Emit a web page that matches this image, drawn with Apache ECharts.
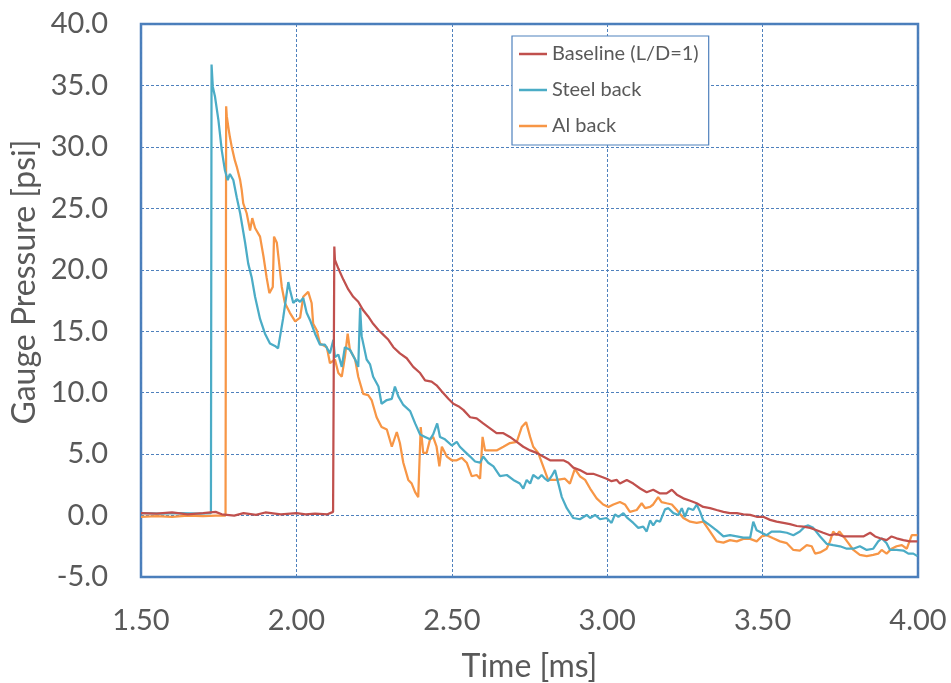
<!DOCTYPE html>
<html><head><meta charset="utf-8">
<script src="https://cdn.jsdelivr.net/npm/echarts@6/dist/echarts.min.js"></script>
<style>html,body{margin:0;padding:0;background:#fff}#c{width:951px;height:683px}</style>
</head><body><div id="c"></div>
<script>
const seriesNames = ["Baseline (L/D=1)", "Steel back", "Al back"];
const xTicks = [1.5, 2.0, 2.5, 3.0, 3.5, 4.0];
const yTicks = [-5, 0, 5, 10, 15, 20, 25, 30, 35, 40];
const xTitle = "Time [ms]";
const yTitle = "Gauge Pressure [psi]";

const baselineT = [1.500,1.550,1.600,1.650,1.700,1.740,1.760,1.800,1.830,1.870,1.900,1.950,2.000,2.030,2.060,2.100,2.118,
2.122,2.124,2.135,2.151,2.167,2.183,2.199,2.215,2.231,2.247,2.264,2.280,2.296,2.312,2.333,2.355,2.376,2.398,2.414,2.435,2.451,2.468,2.489,2.505,2.521,2.537,2.559,2.580,2.601,2.623,2.644,2.666,2.687,2.709,2.730,2.752,2.773,2.794,2.816,2.838,2.859,2.875,2.891,2.912,2.934,2.955,2.977,2.998,3.014,3.031,3.041,3.063,3.084,3.106,3.127,3.148,3.170,3.191,3.208,3.224,3.245,3.267,3.288,3.309,3.331,3.352,3.374,3.395,3.417,3.438,3.460,3.481,3.502,3.524,3.545,3.567,3.588,3.610,3.631,3.653,3.674,3.695,3.717,3.738,3.760,3.781,3.803,3.824,3.846,3.862,3.878,3.899,3.915,3.931,3.953,3.974,3.998];
const baselinePsi = [0.2,0.15,0.25,0.1,0.2,0.3,0.1,0.0,0.2,0.05,0.25,0.1,0.2,0.1,0.15,0.1,0.3,
21.9,20.8,20.1,19.2,18.4,17.8,17.4,16.7,16.2,15.6,15.1,14.7,14.3,13.7,13.2,12.8,12.1,11.6,11.0,10.9,10.6,10.1,9.5,9.1,8.9,8.6,8.0,7.9,7.5,7.1,6.7,6.7,6.4,6.0,5.6,5.3,5.1,4.8,4.5,4.5,4.5,4.3,3.9,3.7,3.4,3.4,3.2,3.0,2.8,2.9,2.6,2.9,2.6,2.2,1.9,2.1,1.8,1.8,2.1,1.7,1.4,1.2,1.0,0.7,0.6,0.45,0.3,0.2,0.2,0.1,0.05,-0.1,-0.1,-0.35,-0.5,-0.6,-0.7,-0.85,-0.9,-1.0,-1.2,-1.4,-1.6,-1.5,-1.7,-1.7,-1.7,-1.7,-1.4,-1.7,-1.85,-2.0,-1.7,-1.85,-2.0,-2.1,-2.1];

const steelT = [1.500,1.561,1.625,1.690,1.725,1.727,1.731,1.738,1.749,1.760,1.770,1.779,1.786,1.797,1.808,1.819,1.835,1.845,1.856,1.867,1.883,1.899,1.915,1.931,1.941,1.957,1.974,1.979,1.990,2.001,2.012,2.022,2.033,2.044,2.060,2.076,2.092,2.108,2.119,2.124,2.135,2.146,2.156,2.172,2.189,2.199,2.205,2.210,2.226,2.237,2.247,2.264,2.274,2.291,2.307,2.317,2.328,2.344,2.366,2.382,2.398,2.414,2.430,2.440,2.453,2.462,2.478,2.500,2.516,2.526,2.542,2.559,2.575,2.591,2.601,2.617,2.634,2.655,2.677,2.698,2.719,2.730,2.741,2.752,2.762,2.778,2.789,2.800,2.810,2.821,2.832,2.843,2.854,2.870,2.891,2.912,2.934,2.945,2.961,2.977,2.998,3.014,3.025,3.036,3.052,3.063,3.084,3.100,3.116,3.127,3.138,3.148,3.159,3.170,3.186,3.197,3.213,3.229,3.240,3.250,3.261,3.277,3.288,3.299,3.309,3.331,3.352,3.374,3.395,3.417,3.438,3.460,3.470,3.481,3.497,3.513,3.529,3.556,3.578,3.599,3.620,3.636,3.647,3.663,3.685,3.706,3.727,3.749,3.771,3.792,3.813,3.835,3.856,3.872,3.883,3.899,3.910,3.931,3.953,3.969,3.985,3.998];
const steelPsi = [0.2,0.15,0.2,0.15,0.2,36.7,34.9,34.1,32.2,29.7,28.1,27.3,27.8,27.3,25.9,24.6,22.2,20.5,19.4,17.8,16.0,14.8,14.0,13.8,13.6,16.0,19.0,18.4,17.3,17.6,17.4,17.7,16.5,15.9,14.8,13.9,13.9,13.2,14.3,12.9,13.1,12.1,13.7,13.5,12.7,12.1,16.9,14.6,12.7,12.3,11.3,10.5,9.1,9.4,9.5,10.5,9.7,9.0,8.5,7.5,6.6,6.4,6.2,6.6,7.5,6.4,6.2,5.7,6.0,5.6,5.2,4.8,4.4,4.3,4.8,4.3,4.0,3.2,3.3,2.9,2.6,2.2,2.9,2.6,3.3,3.0,3.3,3.0,2.8,3.2,3.7,2.6,1.5,0.6,-0.2,-0.3,0.05,-0.2,0.05,-0.3,-0.2,-0.6,0.1,-0.1,0.2,-0.15,-0.6,-1.0,-0.9,-1.3,-0.4,-0.8,-0.4,-0.5,0.5,0.6,0.2,0.05,0.6,-0.1,0.6,0.45,0.9,0.3,-0.4,-0.8,-1.2,-1.7,-1.6,-1.7,-1.8,-1.8,-0.5,-1.2,-1.4,-1.6,-1.3,-1.3,-1.4,-1.6,-1.3,-0.9,-0.8,-1.0,-1.7,-2.3,-2.4,-2.5,-2.7,-2.7,-2.5,-2.8,-2.7,-2.1,-1.85,-2.25,-2.8,-2.8,-2.85,-3.1,-3.1,-3.3];

const alT = [1.500,1.550,1.600,1.650,1.700,1.740,1.772,1.774,1.776,1.781,1.786,1.792,1.802,1.808,1.819,1.824,1.829,1.840,1.851,1.858,1.867,1.883,1.894,1.904,1.913,1.924,1.928,1.937,1.942,1.953,1.963,1.979,1.996,2.012,2.022,2.038,2.049,2.054,2.065,2.076,2.098,2.108,2.124,2.135,2.146,2.156,2.165,2.172,2.189,2.199,2.215,2.231,2.242,2.258,2.274,2.291,2.307,2.323,2.333,2.344,2.360,2.371,2.382,2.392,2.400,2.408,2.419,2.430,2.440,2.451,2.460,2.468,2.484,2.500,2.516,2.532,2.548,2.564,2.580,2.591,2.599,2.607,2.623,2.644,2.666,2.687,2.709,2.725,2.739,2.752,2.762,2.778,2.794,2.810,2.838,2.864,2.880,2.896,2.912,2.929,2.945,2.966,2.987,3.004,3.020,3.041,3.057,3.073,3.095,3.111,3.122,3.138,3.148,3.164,3.175,3.191,3.208,3.224,3.245,3.267,3.288,3.309,3.331,3.352,3.374,3.395,3.417,3.438,3.460,3.481,3.497,3.513,3.534,3.556,3.578,3.599,3.620,3.642,3.658,3.669,3.685,3.706,3.717,3.727,3.738,3.747,3.760,3.776,3.792,3.813,3.835,3.856,3.872,3.883,3.899,3.915,3.931,3.948,3.964,3.980,3.998];
const alPsi = [-0.1,-0.05,-0.1,0.0,-0.05,0.0,0.0,33.3,32.5,31.6,30.8,30.0,28.9,28.4,27.3,26.5,25.4,24.6,23.2,24.2,23.4,22.7,21.1,19.4,18.1,18.6,22.7,22.2,21.1,18.6,17.3,16.5,15.8,16.1,17.8,18.2,17.3,15.6,15.1,14.0,13.7,12.4,12.7,11.6,11.3,12.9,14.8,13.5,12.7,11.3,9.9,9.8,9.4,8.0,7.2,7.0,5.6,6.8,5.9,4.3,2.9,2.6,1.9,1.5,7.2,5.1,5.1,6.2,6.4,5.6,4.0,5.6,4.8,4.5,4.5,4.7,4.3,3.2,3.3,3.0,6.4,5.3,5.3,5.3,5.6,5.9,6.0,7.2,7.6,6.4,5.6,5.1,4.0,2.9,2.9,3.0,2.6,3.8,3.2,2.9,2.2,1.4,0.9,0.7,0.9,1.1,0.9,0.3,0.45,1.0,0.6,0.7,0.9,1.5,1.1,1.0,0.9,0.45,-0.2,-0.5,-0.6,-0.5,-1.3,-2.1,-2.2,-2.0,-2.1,-1.9,-1.9,-2.1,-1.7,-1.6,-1.85,-2.1,-2.25,-2.8,-2.85,-2.4,-2.5,-3.1,-3.0,-2.7,-2.1,-1.3,-1.6,-1.3,-1.7,-2.25,-2.8,-3.2,-3.3,-3.2,-3.1,-2.8,-3.1,-2.7,-2.5,-2.4,-2.7,-1.6,-1.6];

const colors = ["#C0504D", "#4BACC6", "#F79646"];
const pair = (t, p) => t.map((v, i) => [v, p[i]]);
const dataSets = [pair(baselineT, baselinePsi), pair(steelT, steelPsi), pair(alT, alPsi)];

const FONT = "Lato";
const TXT = '#595959';
const chart = echarts.init(document.getElementById('c'), null, {renderer: 'canvas'});
const gridColor = '#4F81BD';
chart.setOption({
  animation: false,
  backgroundColor: '#fff',
  textStyle: {fontFamily: FONT},
  grid: {left: 141, right: 33, top: 24, bottom: 106, containLabel: false, outerBoundsMode: 'none',
    show: true, borderColor: '#4A7EBB', borderWidth: 2.5, backgroundColor: 'transparent'},
  legend: {
    show: true, orient: 'vertical', left: 512, top: 36,
    padding: [8, 10, 9, 7], itemGap: 16, itemWidth: 28, itemHeight: 2.5,
    backgroundColor: '#fff', borderColor: '#4F81BD', borderWidth: 1.2,
    icon: 'rect',
    textStyle: {fontFamily: FONT, fontSize: 20, color: TXT},
    data: seriesNames
  },
  graphic: [{
    type: 'text', x: 25, y: 282, rotation: Math.PI / 2,
    style: {text: yTitle, font: '32px ' + FONT, fill: TXT, textAlign: 'center', textVerticalAlign: 'middle'}
  }],
  xAxis: {
    type: 'value', min: xTicks[0], max: xTicks[xTicks.length - 1], interval: 0.5,
    name: xTitle, nameLocation: 'middle', nameGap: 74,
    nameTextStyle: {fontFamily: FONT, fontSize: 32, color: TXT},
    axisLine: {show: false}, axisTick: {show: false},
    axisLabel: {fontFamily: FONT, fontSize: 29, color: TXT, margin: 29, formatter: v => v.toFixed(2)},
    splitLine: {show: true, lineStyle: {color: gridColor, type: [3, 2], width: 1}}
  },
  yAxis: {
    type: 'value', min: yTicks[0], max: yTicks[yTicks.length - 1], interval: 5,
    axisLine: {show: false}, axisTick: {show: false},
    axisLabel: {fontFamily: FONT, fontSize: 29, color: TXT, margin: 33, formatter: v => v.toFixed(1)},
    splitLine: {show: true, lineStyle: {color: gridColor, type: [3, 2], width: 1}}
  },
  series: seriesNames.map((n, i) => ({
    name: n, type: 'line', data: dataSets[i], showSymbol: false, symbol: 'none',
    lineStyle: {color: colors[i], width: 2.25}, itemStyle: {color: colors[i]},
    z: 3 - i
  }))
});
</script>
</body></html>
